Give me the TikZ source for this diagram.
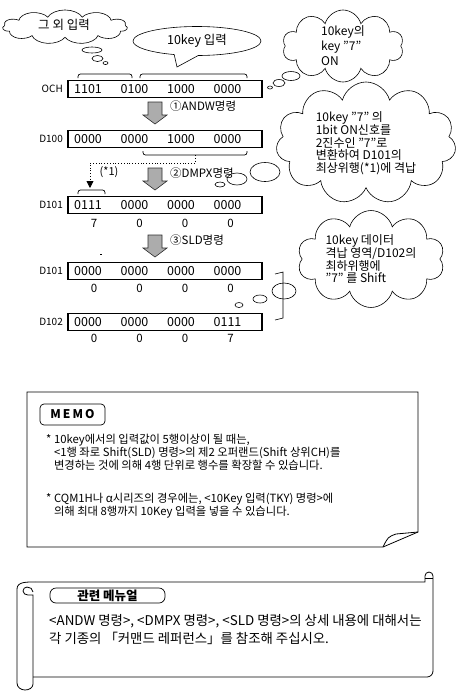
\documentclass[tikz,border=0pt]{standalone}
\usepackage{fontspec}
\setmainfont{Noto Sans CJK KR}
\usepackage{tikz}
\usetikzlibrary{backgrounds}
\usetikzlibrary{shapes,shapes.symbols,shapes.callouts}
\usetikzlibrary{arrows.meta,calc}
\pgfdeclarelayer{edgelayer}
\pgfdeclarelayer{nodelayer}
\pgfsetlayers{background,edgelayer,nodelayer,main}
\tikzstyle{none}=[inner sep=0mm]
\tikzstyle{reg}=[draw=black,line width=1.6pt,minimum width=194pt,minimum height=17pt,inner sep=0pt]
\tikzstyle{bits}=[inner sep=0pt,font=\fontsize{12.5}{12.5}\selectfont]
\tikzstyle{digit}=[inner sep=0pt,font=\fontsize{11.5}{11.5}\selectfont]
\tikzstyle{regname}=[inner sep=0pt,anchor=east,font=\fontsize{10}{10}\selectfont]
\tikzstyle{cmd}=[inner sep=0pt,anchor=west,font=\fontsize{11.5}{11.5}\selectfont]
\tikzstyle{blockarrow}=[fill=gray!65,draw=gray!35!black,line width=0.6pt]
\tikzstyle{brace}=[rounded corners=2.5pt,line width=0.7pt]
\tikzstyle{puff}=[cloud,cloud ignores aspect,draw=black,line width=0.6pt,inner sep=0pt,align=left,font=\fontsize{12}{12.5}\selectfont]
\tikzstyle{bubble}=[line width=0.6pt]
\tikzstyle{memo text}=[inner sep=0pt,anchor=north west,align=left,font=\fontsize{11.3}{12.8}\selectfont]
\tikzstyle{tag}=[draw=black,line width=0.7pt,rounded corners=4pt,inner sep=0pt,font=\bfseries\fontsize{12}{12}\selectfont]

\begin{document}
\begin{tikzpicture}[x=1pt,y=-1pt,font=\fontsize{11}{12}\selectfont]
	\useasboundingbox (0,0) rectangle (458,694);
	\begin{pgfonlayer}{nodelayer}
		% registers
		\node [style=regname] (och) at (63, 89) {OCH};
		\node [style=reg] (ochbox) at (165, 89) {};
		\foreach \g [count=\i] in {1101,0100,1000,0000}
			\node [style=bits] (och\i) at (41.5+46.5*\i, 89) {\g};
		\node [style=regname] (dh) at (63, 139) {D100};
		\node [style=reg] (dhbox) at (165, 139) {};
		\foreach \g [count=\i] in {0000,0000,1000,0000}
			\node [style=bits] (dh\i) at (41.5+46.5*\i, 139) {\g};
		\node [style=regname] (da) at (63, 205) {D101};
		\node [style=reg] (dabox) at (165, 205) {};
		\foreach \g [count=\i] in {0111,0000,0000,0000}
			\node [style=bits] (da\i) at (41.5+46.5*\i, 205) {\g};
		\foreach \d [count=\i] in {7,0,0,0}
			\node [style=digit] (dax\i) at (48.5+45.5*\i, 223) {\d};
		\node [style=regname] (db) at (63, 271) {D101};
		\node [style=reg] (dbbox) at (165, 271) {};
		\foreach \g [count=\i] in {0000,0000,0000,0000}
			\node [style=bits] (db\i) at (41.5+46.5*\i, 271) {\g};
		\foreach \d [count=\i] in {0,0,0,0}
			\node [style=digit] (dbx\i) at (48.5+45.5*\i, 288) {\d};
		\node [style=regname] (dc) at (63, 322) {D102};
		\node [style=reg] (dcbox) at (165, 322) {};
		\foreach \g [count=\i] in {0000,0000,0000,0111}
			\node [style=bits] (dc\i) at (41.5+46.5*\i, 322) {\g};
		\foreach \d [count=\i] in {0,0,0,7}
			\node [style=digit] (dcx\i) at (48.5+45.5*\i, 338) {\d};

		% commands
		\node [style=cmd] (andw) at (170, 106) {①ANDW명령};
		\node [style=cmd] (dmpx) at (170, 173) {②DMPX명령};
		\node [style=cmd] (sld) at (170, 240) {③SLD명령};
		\node [style=none] (star) at (109, 172) {(*1)};

		% callouts
		\begin{scope}[shift={(65,27)},yscale=0.55,transform shape]
			\node [style=puff,cloud puffs=11,minimum width=125pt,minimum height=62pt] (other) at (0,0) {};
		\end{scope}
		\node [style=none,font=\fontsize{12.5}{12.5}\selectfont] (othertext) at (64, 25) {그 외 입력};
		\node [ellipse callout,draw=black,line width=0.6pt,inner sep=0pt,minimum width=128pt,minimum height=29pt,callout absolute pointer={(177,67)},callout pointer arc=22,font=\fontsize{12.5}{12.5}\selectfont] (tenkey) at (197, 41) {10key 입력};
		\node [style=puff,cloud puffs=10,minimum width=121pt,minimum height=72pt,font=\fontsize{12}{15}\selectfont] (keyon) at (343, 46) {10key의\\key "7"\\ON};
		\node [style=puff,cloud puffs=11,minimum width=180pt,minimum height=122pt] (dmpxnote) at (366, 143) {10key "7" 의\\1bit ON신호를\\2진수인 "7"로\\변환하여 D101의\\최상위행(*1)에 격납};
		\node [style=puff,cloud puffs=10,minimum width=147pt,minimum height=88pt] (sldnote) at (371, 259) {10key 데이터\\격납 영역/D102의\\최하위행에\\"7" 를 Shift};

		% memo
		\node [style=tag,minimum width=65pt,minimum height=21pt] (memo) at (72.5, 414.5) {M\,E\,M\,O};
		\node [style=memo text] (memo1) at (46, 434) {*~10key에서의 입력값이 5행이상이 될 때는,\\\phantom{*~}<1행 좌로 Shift(SLD) 명령>의 제2 오퍼랜드(Shift 상위CH)를\\\phantom{*~}변경하는 것에 의해 4행 단위로 행수를 확장할 수 있습니다.};
		\node [style=memo text] (memo2) at (46, 493) {*~CQM1H나 α시리즈의 경우에는, <10Key 입력(TKY) 명령>에\\\phantom{*~}의해 최대 8행까지 10Key 입력을 넣을 수 있습니다.};

		% manual
		\node [style=tag,minimum width=115pt,minimum height=15pt,rounded corners=6pt,font=\bfseries\fontsize{12.5}{12.5}\selectfont] (manual) at (107.5, 595.5) {관련 메뉴얼};
		\node [style=memo text,font=\fontsize{13.4}{18}\selectfont] (refs) at (49, 614) {<ANDW 명령>, <DMPX 명령>, <SLD 명령>의 상세 내용에 대해서는\\각 기종의 「커맨드 레퍼런스」를 참조해 주십시오.};
	\end{pgfonlayer}
	\begin{pgfonlayer}{edgelayer}
		% arrows between registers
		\foreach \y in {102,168,235}
			\draw [style=blockarrow] (148,\y) -- (162,\y) -- (162,\y+13) -- (167,\y+13) -- (155,\y+22) -- (143,\y+13) -- (148,\y+13) -- cycle;
		% braces
		\draw [style=brace] (78,78) -- (78,74) -- (132,74) -- (132,78);
		\draw [style=brace] (140,78) -- (140,74) -- (247,74) -- (247,78);
		\draw [style=brace] (143,151) -- (143,155) -- (247,155) -- (247,151);
		\draw [style=brace] (78,194) -- (78,190) -- (105,190) -- (105,194);
		\coordinate (brk) at (195,155);
		\coordinate (tgt) at (90,188);
		\draw [dotted,line width=0.8pt,-{Triangle[width=7pt,length=7pt]}] (brk) -- ++(0,8) -| (tgt);
		\fill (99.5,253.5) rectangle (101.5,255);

		% thought bubbles
		\draw [style=bubble] (92,50) ellipse [x radius=10pt, y radius=3pt];
		\draw [style=bubble] (97.5,58.5) ellipse [x radius=5.5pt, y radius=3pt];
		\draw [style=bubble] (105.5,63) ellipse [x radius=2.5pt, y radius=1.5pt];
		\draw [style=bubble] (291,76) ellipse [x radius=9pt, y radius=4.5pt];
		\draw [style=bubble] (279,83) ellipse [x radius=6pt, y radius=3.5pt];
		\draw [style=bubble] (270,87.5) ellipse [x radius=2.5pt, y radius=1.5pt];
		\draw [style=bubble] (265,172) ellipse [x radius=15pt, y radius=9.5pt];
		\draw [style=bubble] (237,179) ellipse [x radius=10pt, y radius=6pt];
		\draw [style=bubble] (220,184.5) ellipse [x radius=5pt, y radius=2.5pt];
		\draw [style=bubble] (284,291) ellipse [x radius=12pt, y radius=8pt];
		\draw [style=bubble] (275,274) -- (283,272) -- (283,318) -- (275,320);
		\draw [style=bubble] (260,299) ellipse [x radius=7pt, y radius=4pt];
		\draw [style=bubble] (239,305) ellipse [x radius=4pt, y radius=2.5pt];

		% memo sheet with folded corner
		\draw [line width=0.8pt] (27,392) -- (418,392) -- (418,532) -- (383,547) -- (27,547) -- cycle;
		\draw [line width=0.8pt] (383,547) .. controls (388,537) .. (396,534) -- (418,532);

		% scroll
		\draw [line width=0.8pt] (35,582) -- (425,582) -- (425,576) to[out=90,in=180] (429,572) to[out=0,in=90] (433,576) -- (433,671) to[out=-90,in=0] (427,677) -- (33,677);
		\draw [line width=0.8pt] (425,578) -- (433,578);
		\draw [line width=0.8pt] (35,582) to[out=180,in=90] (17,589) -- (17,683) to[out=-90,in=180] (25,690) to[out=0,in=-90] (33,684) -- (33,595) -- (28,595) to[out=180,in=-90] (23,591) to[out=90,in=180] (27,587) to[out=0,in=90] (33,592);
	\end{pgfonlayer}
\end{tikzpicture}
\end{document}
